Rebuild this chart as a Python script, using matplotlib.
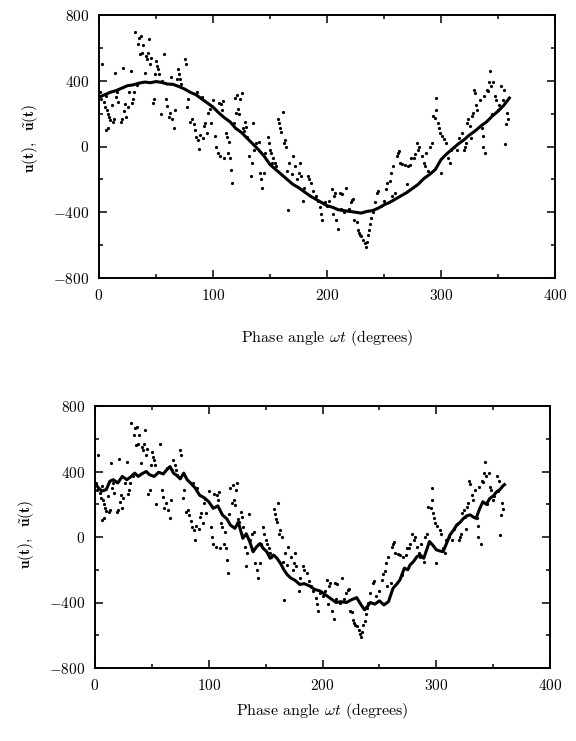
import matplotlib
matplotlib.use("Agg")
import matplotlib.pyplot as plt
from matplotlib.ticker import MultipleLocator, FuncFormatter

plt.rcParams['mathtext.fontset'] = 'cm'
plt.rcParams['axes.unicode_minus'] = False

# measured samples (dots), shared by both panels
scatter_phase = [1,2,3,4,5,6,6,7,8,8,9,10,11,12,13,14,15,16,17,19,20,21,22,23,24,25,26,28,29,30,
    31,32,33,34,35,36,37,38,39,40,41,42,43,44,45,46,47,48,49,50,51,52,53,54,55,57,59,60,61,62,
    63,64,66,67,68,69,70,71,72,75,76,77,78,80,82,83,84,85,86,87,88,89,90,91,92,93,95,96,97,98,
    100,102,103,104,105,106,107,108,109,110,111,112,113,114,115,116,117,118,119,120,121,122,123,124,125,126,127,128,129,130,
    132,133,134,135,136,138,140,141,142,143,145,146,148,149,150,151,152,153,154,155,157,158,159,160,161,162,163,164,165,166,
    167,169,170,172,174,175,176,177,179,180,183,184,186,188,190,192,194,195,196,198,200,202,204,205,206,207,208,210,211,212,
    213,215,217,219,221,222,223,224,226,227,228,229,230,232,233,234,235,236,237,238,239,240,242,244,245,247,250,252,253,255,
    256,257,258,260,261,262,263,264,266,268,270,271,273,274,276,277,279,280,281,283,285,286,287,289,290,292,293,295,296,296,
    297,298,299,300,301,303,304,306,308,309,311,314,316,318,320,321,322,323,324,325,326,327,328,329,330,331,332,334,336,337,
    337,338,339,340,341,342,343,344,345,346,347,348,350,351,353,354,355,356,357,358,359]
scatter_value = [330,290,500,270,240,310,103,225,200,115,180,160,250,150,165,450,300,330,270,152,165,475,215,256,177,240,330,460,265,290,
    330,695,375,622,663,560,673,570,620,450,552,530,570,653,500,540,265,287,440,520,490,470,440,200,400,565,287,246,180,205,
    420,165,114,225,410,470,440,410,380,530,500,238,290,152,165,135,100,60,330,40,-18,70,300,50,125,146,83,205,230,145,
    280,63,0,-40,265,-60,256,225,276,-70,85,60,-40,30,-70,-140,-220,140,298,205,316,226,195,287,327,110,93,150,120,60,
    -60,-180,-100,140,-20,20,30,-160,-200,-250,-160,-40,60,20,-20,-40,-100,-70,-100,-120,170,140,110,90,210,20,40,0,-150,-385,
    -100,-170,-60,-120,-200,-160,-100,-180,-330,-250,-180,-200,-220,-270,-300,-330,-370,-410,-450,-340,-360,-330,-260,-410,-300,-280,-450,-500,-280,-380,
    -290,-400,-250,-380,-340,-323,-320,-450,-460,-505,-525,-540,-545,-570,-590,-610,-580,-540,-510,-470,-435,-400,-340,-280,-270,-360,-330,-260,-225,-210,
    -160,-300,-120,-280,-60,-40,-30,-100,-105,-110,-230,-120,-110,-70,-70,-45,20,-20,0,-60,-100,-120,-40,-150,0,20,185,175,297,225,
    145,115,85,-160,65,45,20,-70,-100,-20,0,-20,50,80,-20,0,20,145,165,125,50,185,205,345,325,255,225,285,115,65,
    0,305,-40,345,335,390,460,370,200,390,305,285,225,250,370,280,345,15,135,205,170]

# estimate curve, top panel
top_phase = [0,5,10,15,20,25,30,35,40,45,50,55,60,65,70,75,80,85,90,95,100,105,110,115,120,125,130,135,140,145,
    150,155,160,165,170,175,180,185,190,195,200,205,210,215,220,225,230,235,240,245,250,255,260,265,270,275,280,285,290,295,
    300,305,310,315,320,325,330,335,340,345,350,355,360]
top_value = [300,315,330,340,355,370,375,385,392,388,395,390,380,378,365,350,330,315,290,265,240,205,175,150,110,85,50,15,-20,-60,
    -110,-140,-170,-200,-230,-250,-275,-300,-320,-340,-360,-370,-385,-390,-395,-400,-405,-395,-390,-375,-355,-340,-320,-300,-280,-255,-230,-195,-170,-140,
    -80,-45,-15,15,40,70,95,125,150,185,215,250,295]

# estimate curve, bottom panel
bot_phase = [0,3,6,10,13,16,20,24,28,31,35,38,41,45,48,52,56,60,63,66,69,72,75,78,81,84,88,92,96,100,
    104,108,112,116,119,123,126,130,133,136,139,142,145,148,151,154,157,160,163,166,169,172,176,180,184,189,193,198,202,206,
    209,212,216,221,225,230,234,237,240,242,246,250,254,258,262,265,268,272,275,277,280,283,286,289,292,294,297,300,303,306,
    309,312,315,318,321,324,327,330,333,335,338,341,344,347,350,353,356,359,360]
bot_value = [330,300,280,290,340,350,330,370,350,365,390,370,385,400,380,370,395,385,410,430,390,375,355,390,350,330,300,255,240,215,
    175,190,135,110,73,53,90,-8,20,-28,-90,-60,-40,-70,-90,-130,-110,-130,-160,-200,-230,-250,-265,-290,-285,-300,-320,-330,-350,-370,
    -385,-400,-395,-400,-385,-370,-415,-445,-420,-400,-410,-390,-415,-395,-313,-290,-263,-190,-200,-170,-150,-120,-110,-130,-70,-28,-50,-78,-85,-90,
    -40,12,40,73,90,114,130,135,120,114,170,215,200,235,250,275,290,315,320]

x_ticks = [0, 100, 200, 300, 400]
y_ticks = [-800, -400, 0, 400, 800]

fig = plt.figure(figsize=(5.76, 7.41), dpi=100)
ax1 = fig.add_axes([99/576, 1-278/741, 456/576, 263/741])
ax2 = fig.add_axes([95/576, 1-668/741, 455/576, 262/741])

fmt = FuncFormatter(lambda v, p: r'$\mathbf{%d}$' % int(round(v)))

for ax, lp, lv, xl, yl in ((ax1, top_phase, top_value, (0.5, -0.19), (-0.13, 0.53)),
                           (ax2, bot_phase, bot_value, (0.5, -0.125), (-0.13, 0.51))):
    ax.plot(scatter_phase, scatter_value, 'o', color='black', markersize=2.3, markeredgewidth=0)
    ax.plot(lp, lv, '-', color='black', linewidth=2.2, solid_joinstyle='round')
    ax.set_xlim(0, 400)
    ax.set_ylim(-800, 800)
    ax.set_xticks(x_ticks)
    ax.set_yticks(y_ticks)
    ax.xaxis.set_minor_locator(MultipleLocator(50))
    ax.yaxis.set_minor_locator(MultipleLocator(200))
    ax.xaxis.set_major_formatter(fmt)
    ax.yaxis.set_major_formatter(fmt)
    ax.tick_params(which='both', direction='in', top=True, right=True, width=1.1, labelsize=11)
    ax.tick_params(which='major', length=6, pad=7)
    ax.tick_params(which='minor', length=3)
    for s in ax.spines.values():
        s.set_linewidth(1.4)
    ax.set_xlabel(r'Phase angle $\omega t$ (degrees)', fontfamily='cmr10', fontsize=11.5)
    ax.set_ylabel(r'$\mathbf{u(t),\ \ \tilde{u}(t)}$', fontsize=11)
    ax.xaxis.set_label_coords(*xl)
    ax.yaxis.set_label_coords(*yl)

fig.savefig('out.png', dpi=100)
